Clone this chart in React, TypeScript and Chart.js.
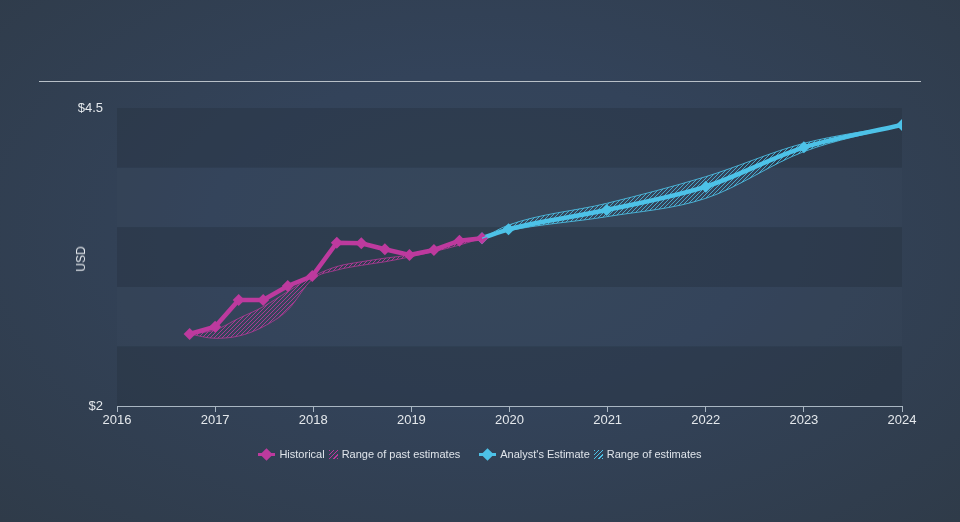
import React, { useEffect, useRef } from "react";
import { Chart, registerables } from "chart.js";

Chart.register(...registerables);

const histDates = [2016.74, 2017.0, 2017.24, 2017.49, 2017.74, 2017.99, 2018.24, 2018.49, 2018.73, 2018.98, 2019.23, 2019.49, 2019.72];
const histValues = [2.604, 2.665, 2.889, 2.889, 3.007, 3.09, 3.37, 3.365, 3.315, 3.267, 3.309, 3.387, 3.407];
const pastLow = [2.604, 2.568, 2.587, 2.665, 2.805, 3.063, 3.14, 3.18, 3.21, 3.25, 3.295, 3.35, 3.407];
const pastHigh = [2.604, 2.638, 2.735, 2.833, 2.96, 3.085, 3.17, 3.21, 3.24, 3.267, 3.31, 3.37, 3.407];

const estDates = [2019.72, 2019.99, 2020.99, 2022.0, 2023.0, 2024.0];
const estValues = [3.407, 3.482, 3.644, 3.84, 4.17, 4.357];
const estLow = [3.407, 3.47, 3.588, 3.742, 4.134, 4.357];
const estHigh = [3.407, 3.518, 3.7, 3.924, 4.204, 4.357];

const yTickValues = [2, 4.5];
const bandEdges = [2, 2.5, 3, 3.5, 4, 4.5];
const xMin = 2016;
const xMax = 2024;

const PINK = "#bd3a9e";
const CYAN = "#4dc2e8";
const FONT = "Liberation Sans, Arial, sans-serif";

function hatch(color: string) {
  const c = document.createElement("canvas");
  c.width = 4;
  c.height = 4;
  const g = c.getContext("2d")!;
  g.strokeStyle = color;
  g.lineWidth = 0.9;
  g.beginPath();
  g.moveTo(0, 4);
  g.lineTo(4, 0);
  g.moveTo(-1, 1);
  g.lineTo(1, -1);
  g.moveTo(3, 5);
  g.lineTo(5, 3);
  g.stroke();
  return g.createPattern(c, "repeat")!;
}

const pts = (xs: number[], ys: number[]) => xs.map((x, i) => ({ x, y: ys[i] }));

const bandsPlugin = {
  id: "bands",
  beforeDatasetsDraw(chart: any) {
    const { ctx, chartArea, scales } = chart;
    const y = scales.y;
    ctx.save();
    for (let i = 0; i < bandEdges.length - 1; i++) {
      const top = y.getPixelForValue(bandEdges[i + 1]);
      const bot = y.getPixelForValue(bandEdges[i]);
      ctx.fillStyle = i % 2 === 0 ? "rgba(38,50,64,0.42)" : "rgba(60,76,94,0.2)";
      ctx.fillRect(chartArea.left, top, chartArea.right - chartArea.left, bot - top);
    }
    ctx.restore();
  },
};

export default function App() {
  const ref = useRef<HTMLCanvasElement>(null);
  useEffect(() => {
    document.body.style.margin = "0";
    const chart = new Chart(ref.current!, {
      type: "line",
      data: {
        datasets: [
          {
            data: pts(histDates, pastLow),
            borderColor: "rgba(189,58,158,0.75)",
            borderWidth: 1,
            pointRadius: 0,
            cubicInterpolationMode: "monotone",
            fill: false,
          },
          {
            data: pts(histDates, pastHigh),
            borderColor: "rgba(189,58,158,0.75)",
            borderWidth: 1,
            pointRadius: 0,
            cubicInterpolationMode: "monotone",
            fill: "-1",
            backgroundColor: hatch("rgba(189,58,158,0.95)"),
          },
          {
            data: pts(estDates, estLow),
            borderColor: "rgba(77,194,232,0.85)",
            borderWidth: 1,
            pointRadius: 0,
            cubicInterpolationMode: "monotone",
            fill: false,
          },
          {
            data: pts(estDates, estHigh),
            borderColor: "rgba(77,194,232,0.85)",
            borderWidth: 1,
            pointRadius: 0,
            cubicInterpolationMode: "monotone",
            fill: "-1",
            backgroundColor: hatch("rgba(77,194,232,0.9)"),
          },
          {
            data: pts(histDates, histValues),
            borderColor: PINK,
            backgroundColor: PINK,
            borderWidth: 4.5,
            pointStyle: "rectRot",
            pointRadius: 6,
            pointBorderWidth: 0,
            tension: 0,
            fill: false,
          },
          {
            data: pts(estDates, estValues),
            borderColor: CYAN,
            backgroundColor: CYAN,
            borderWidth: 4.5,
            pointStyle: "rectRot",
            pointRadius: 6,
            pointBorderWidth: 0,
            cubicInterpolationMode: "monotone",
            fill: false,
          },
        ],
      },
      options: {
        animation: false,
        responsive: false,
        layout: { padding: { top: 108, right: 58, bottom: 86, left: 0 } },
        plugins: { legend: { display: false }, tooltip: { enabled: false } },
        scales: {
          x: {
            type: "linear",
            min: xMin,
            max: xMax,
            afterFit: (s: any) => { s.height = 30; },
            ticks: {
              stepSize: 1,
              color: "#e4e8ec",
              font: { family: FONT, size: 13 },
              padding: 1,
              callback: (v: any) => String(v),
            },
            grid: { drawOnChartArea: false, drawTicks: true, tickLength: 6, color: "#a9b6c2", lineWidth: 1 },
            border: { display: true, color: "#a9b6c2", width: 1 },
          },
          y: {
            type: "linear",
            min: 2,
            max: 4.5,
            afterFit: (s: any) => { s.width = 117; },
            afterBuildTicks: (s: any) => { s.ticks = yTickValues.map((v) => ({ value: v })); },
            ticks: {
              color: "#e4e8ec",
              font: { family: FONT, size: 13 },
              padding: 14,
              callback: (v: any) => "$" + v,
            },
            grid: { display: false, drawTicks: false },
            border: { display: false },
          },
        },
      },
      plugins: [bandsPlugin],
    } as any);
    return () => chart.destroy();
  }, []);

  const txt: React.CSSProperties = { color: "#dfe4ea", fontSize: 11, fontFamily: FONT };
  const marker = (color: string) => (
    <span style={{ position: "relative", display: "inline-block", width: 17, height: 12, marginRight: 4 }}>
      <span style={{ position: "absolute", left: 0, top: 4.5, width: 17, height: 3, background: color }} />
      <span style={{ position: "absolute", left: 4, top: 1.5, width: 9, height: 9, background: color, transform: "rotate(45deg)" }} />
    </span>
  );
  const hatchIcon = (color: string) => (
    <span
      style={{
        display: "inline-block",
        width: 9,
        height: 9,
        marginRight: 4,
        marginLeft: 4,
        background: `repeating-linear-gradient(135deg, ${color} 0px, ${color} 1px, transparent 1px, transparent 3px)`,
      }}
    />
  );

  return (
    <div
      style={{
        position: "fixed",
        left: 0,
        top: 0,
        width: 960,
        height: 522,
        background: "radial-gradient(ellipse at 50% 45%, #36475a 0%, #33435a 40%, #2f3b49 100%)",
      }}
    >
      <div style={{ position: "absolute", left: 39, top: 81, width: 882, height: 1, background: "#b8c0c8" }} />
      <canvas ref={ref} width={960} height={522} style={{ position: "absolute", left: 0, top: 0 }} />
      <div
        style={{
          position: "absolute",
          left: 81,
          top: 259,
          transform: "translate(-50%, -50%) rotate(-90deg)",
          color: "#e4e8ec",
          fontSize: 12,
          fontFamily: FONT,
          whiteSpace: "nowrap",
        }}
      >
        USD
      </div>
      <div style={{ position: "absolute", left: 0, top: 448, width: 960, display: "flex", justifyContent: "center", alignItems: "center", ...txt }}>
        <span style={{ display: "flex", alignItems: "center" }}>
          {marker(PINK)}<span>Historical</span>{hatchIcon(PINK)}<span>Range of past estimates</span>
        </span>
        <span style={{ display: "flex", alignItems: "center", marginLeft: 19 }}>
          {marker(CYAN)}<span>Analyst's Estimate</span>{hatchIcon(CYAN)}<span>Range of estimates</span>
        </span>
      </div>
    </div>
  );
}
